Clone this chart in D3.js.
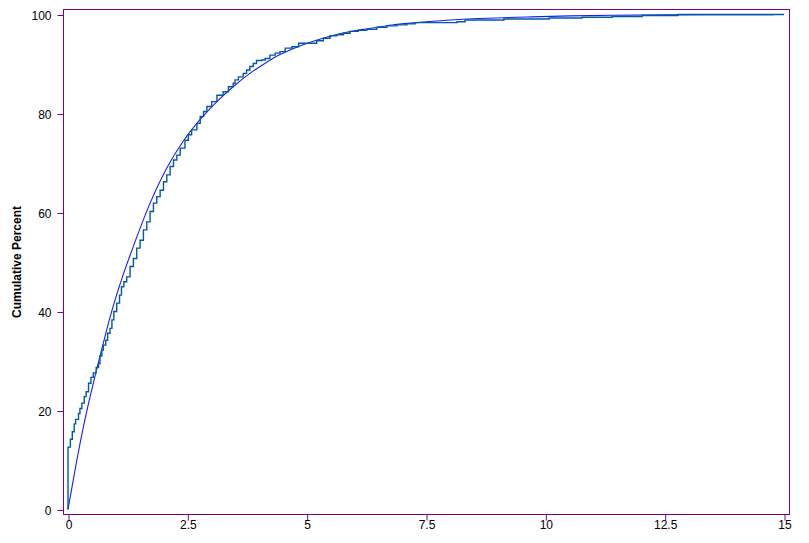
<!DOCTYPE html>
<html>
<head>
<meta charset="utf-8">
<script src="https://cdn.jsdelivr.net/npm/d3@7"></script>
<style>
  html, body { margin: 0; padding: 0; background: #fff; }
  svg { display: block; }
  text { font-family: "Liberation Sans", Arial, sans-serif; }
</style>
</head>
<body>
<svg id="chart" width="809" height="543"></svg>
<script>
// ---- data ----
const xTickValues = [0, 2.5, 5, 7.5, 10, 12.5, 15];
const xTickLabels = ["0", "2.5", "5", "7.5", "10", "12.5", "15"];
const yTickValues = [0, 20, 40, 60, 80, 100];
const yTickLabels = ["0", "20", "40", "60", "80", "100"];
const yAxisTitle = "Cumulative Percent";

// empirical CDF (step points: value jumps to y at x)
const ecdfX = [0, 0, 0.05, 0.09, 0.13, 0.16, 0.22, 0.25, 0.29, 0.34, 0.38, 0.43, 0.48, 0.53, 0.59, 0.64,
  0.67, 0.71, 0.74, 0.79, 0.83, 0.88, 0.92, 0.96, 1.02, 1.08, 1.12, 1.17, 1.23, 1.30, 1.37, 1.44, 1.51,
  1.58, 1.65, 1.72, 1.79, 1.86, 1.93, 2.00, 2.07, 2.14, 2.21, 2.28, 2.35, 2.45, 2.52, 2.59, 2.70, 2.77,
  2.84, 2.91, 3.01, 3.12, 3.25, 3.36, 3.46, 3.50, 3.57, 3.67, 3.74, 3.81, 3.88, 3.95, 4.06, 4.13, 4.23,
  4.34, 4.44, 4.55, 4.69, 4.83, 5.21, 5.35, 5.49, 5.63, 5.77, 5.91, 6.08, 6.26, 6.47, 6.68, 6.89, 7.10,
  7.27, 8.15, 8.32, 9.13, 10.08, 10.77, 11.40, 12.03, 12.78, 15];
const ecdfY = [0, 12.6, 14.2, 15.7, 17.3, 18.2, 19.4, 20.4, 21.5, 22.8, 23.8, 25.5, 26.7, 27.6, 28.7, 29.5,
  31.0, 32.2, 33.2, 34.2, 35.6, 36.6, 38.3, 40.0, 41.7, 43.3, 45.0, 46.0, 47.0, 49.1, 50.7, 52.8, 54.4,
  56.5, 58.1, 60.2, 61.9, 63.2, 64.5, 66.2, 67.6, 69.3, 70.6, 71.6, 73.0, 74.6, 75.7, 76.7, 78.0, 79.4,
  80.4, 81.4, 82.4, 83.7, 84.4, 85.4, 86.1, 86.8, 87.4, 88.1, 88.8, 89.5, 90.1, 90.7, 90.8, 91.1, 91.8,
  92.2, 92.5, 93.2, 93.5, 94.2, 94.7, 95.2, 95.7, 95.9, 96.2, 96.6, 96.8, 97.0, 97.4, 97.7, 97.9, 98.1,
  98.35, 98.55, 98.9, 99.1, 99.3, 99.45, 99.6, 99.8, 100, 100];

// fitted CDF curve
const fitX = [0, 0.18, 0.36, 0.53, 0.74, 0.88, 1.02, 1.12, 1.37, 1.72, 2.07, 2.42, 2.77, 3.12, 3.46, 3.81,
  4.09, 4.44, 4.79, 5.14, 5.49, 5.84, 6.19, 6.54, 6.89, 7.24, 7.58, 7.93, 8.28, 8.63, 9.61, 10.52, 11.42,
  12.5, 14.79];
const fitY = [0, 9.7, 18.4, 25.5, 33.6, 38.8, 43.4, 46.4, 53.2, 61.9, 69.0, 74.5, 78.8, 82.4, 85.4, 88.1,
  89.9, 91.9, 93.4, 94.6, 95.6, 96.4, 97.0, 97.5, 98.0, 98.3, 98.6, 98.85, 99.05, 99.2, 99.5, 99.72, 99.85,
  99.93, 99.98];

// ---- drawing ----
const svg = d3.select("#chart");
const frame = { left: 63, right: 789, top: 9, bottom: 514 };
const purple = "#800080";

const x = d3.scaleLinear().domain([0, 15]).range([68, 784]);
const y = d3.scaleLinear().domain([0, 100]).range([509.5, 14.5]);

// frame
svg.append("rect")
  .attr("x", frame.left + 0.5).attr("y", frame.top + 0.5)
  .attr("width", frame.right - frame.left).attr("height", frame.bottom - frame.top)
  .attr("fill", "none").attr("stroke", purple).attr("stroke-width", 1);

// x axis
const xAxis = d3.axisBottom(x).tickValues(xTickValues)
  .tickFormat((d, i) => xTickLabels[i]).tickSizeInner(6).tickSizeOuter(0);
const gx = svg.append("g").attr("transform", `translate(0.5,${frame.bottom + 0.5})`).call(xAxis);
gx.select(".domain").remove();
gx.selectAll(".tick line").attr("stroke", purple);
gx.selectAll(".tick text").attr("fill", "#000").attr("font-size", 12)
  .attr("font-family", "'Liberation Sans', Arial, sans-serif")
  .attr("y", 14).attr("dy", "0");

// y axis
const yAxis = d3.axisLeft(y).tickValues(yTickValues)
  .tickFormat((d, i) => yTickLabels[i]).tickSizeInner(6).tickSizeOuter(0);
const gy = svg.append("g").attr("transform", `translate(${frame.left + 0.5},0.5)`).call(yAxis);
gy.select(".domain").remove();
gy.selectAll(".tick line").attr("stroke", purple);
gy.selectAll(".tick text").attr("fill", "#000").attr("font-size", 12)
  .attr("font-family", "'Liberation Sans', Arial, sans-serif")
  .attr("x", -12).attr("dy", "0.35em");

// y axis title
svg.append("text")
  .attr("transform", "translate(21,262) rotate(-90)")
  .attr("text-anchor", "middle")
  .attr("font-size", 12).attr("font-weight", "bold")
  .attr("fill", "#000")
  .text(yAxisTitle);

// fitted curve
const fitData = fitX.map((v, i) => [v, fitY[i]]);
svg.append("path")
  .datum(fitData)
  .attr("fill", "none").attr("stroke", "#1a1aff").attr("stroke-width", 1.1)
  .attr("d", d3.line().x(d => x(d[0])).y(d => y(d[1])).curve(d3.curveMonotoneX));

// empirical CDF
const ecdfData = ecdfX.map((v, i) => [v, ecdfY[i]]);
svg.append("path")
  .datum(ecdfData)
  .attr("fill", "none").attr("stroke", "#005a9c").attr("stroke-width", 1.4)
  .attr("d", d3.line().x(d => x(d[0])).y(d => y(d[1])).curve(d3.curveStepAfter));
</script>
</body>
</html>
